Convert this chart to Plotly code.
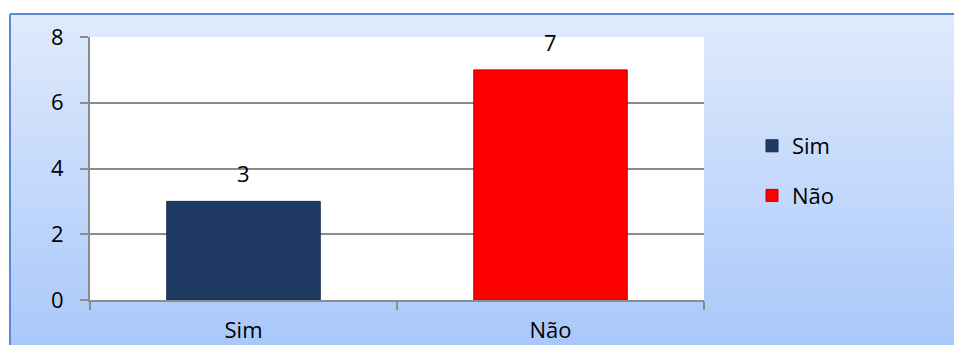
import plotly.graph_objects as go
import urllib.parse

categories = ["Sim", "Não"]
values = [3, 7]
bar_colors = ["#1f3b63", "#ff0000"]
edge_colors = ["#15294a", "#c00000"]
y_ticks = [0, 2, 4, 6, 8]

W, H = 954, 345
L, R, T, B = 90, 250, 37, 45
PW, PH = W - L - R, H - T - B


def px_x(px):
    return (px - L) / PW


def px_y(py):
    return (H - B - py) / PH


fig = go.Figure()
for cat, val, col, edge in zip(categories, values, bar_colors, edge_colors):
    fig.add_trace(go.Bar(
        x=[cat], y=[val], name=cat, width=0.5,
        marker=dict(color=col, line=dict(color=edge, width=1)),
        legendgroup=cat,
    ))
    fig.add_annotation(x=cat, y=val, text=str(val), showarrow=False,
                       yshift=28, font=dict(size=22, color="#000000"))

svg = ('<svg xmlns="http://www.w3.org/2000/svg" width="100" height="100" preserveAspectRatio="none">'
       '<defs><linearGradient id="g" x1="0" y1="0" x2="0" y2="1">'
       '<stop offset="0" stop-color="#e0eafc"/><stop offset="1" stop-color="#a6c6fa"/>'
       '</linearGradient></defs><rect width="100" height="100" fill="url(#g)"/></svg>')
src = "data:image/svg+xml;charset=utf-8," + urllib.parse.quote(svg)

fig.add_layout_image(dict(
    source=src, xref="paper", yref="paper",
    x=px_x(10), y=px_y(14), sizex=(W + 20 - 10) / PW, sizey=(H + 20 - 14) / PH,
    xanchor="left", yanchor="top", sizing="stretch", layer="below",
))
# white plot area
fig.add_shape(type="rect", xref="paper", yref="paper", x0=0, x1=1, y0=0, y1=1,
              fillcolor="white", line=dict(width=0), layer="below")
# chart border (top and left)
fig.add_shape(type="line", xref="paper", yref="paper", x0=px_x(10), x1=px_x(W + 10),
              y0=px_y(14), y1=px_y(14), line=dict(color="#5a8bd2", width=2), layer="below")
fig.add_shape(type="line", xref="paper", yref="paper", x0=px_x(10), x1=px_x(10),
              y0=px_y(14), y1=px_y(H + 10), line=dict(color="#5a8bd2", width=2), layer="below")

fig.update_layout(
    width=W, height=H,
    margin=dict(l=L, r=R, t=T, b=B, pad=0, autoexpand=False),
    paper_bgcolor="white", plot_bgcolor="rgba(0,0,0,0)",
    barmode="overlay",
    font=dict(family="Open Sans, Noto Sans, sans-serif", size=22, color="#000000"),
    showlegend=True,
    legend=dict(x=px_x(752), y=px_y(171), xanchor="left", yanchor="middle",
                bgcolor="rgba(0,0,0,0)", font=dict(size=22), tracegroupgap=18,
                itemwidth=30),
    xaxis=dict(showgrid=False, showline=True, linecolor="#8c8c8c", linewidth=2,
               ticks="outside", tickson="boundaries", ticklen=8, tickcolor="#8c8c8c",
               tickwidth=2, ticklabelstandoff=10, automargin=False, fixedrange=True),
    yaxis=dict(range=[0, 8], tickvals=y_ticks, showgrid=True, gridcolor="#8c8c8c",
               gridwidth=2, showline=True, linecolor="#8c8c8c", linewidth=2,
               ticks="outside", ticklen=8, tickcolor="#8c8c8c", tickwidth=2,
               ticklabelstandoff=12, zeroline=False, automargin=False, fixedrange=True),
)

fig.write_html("out.html")
